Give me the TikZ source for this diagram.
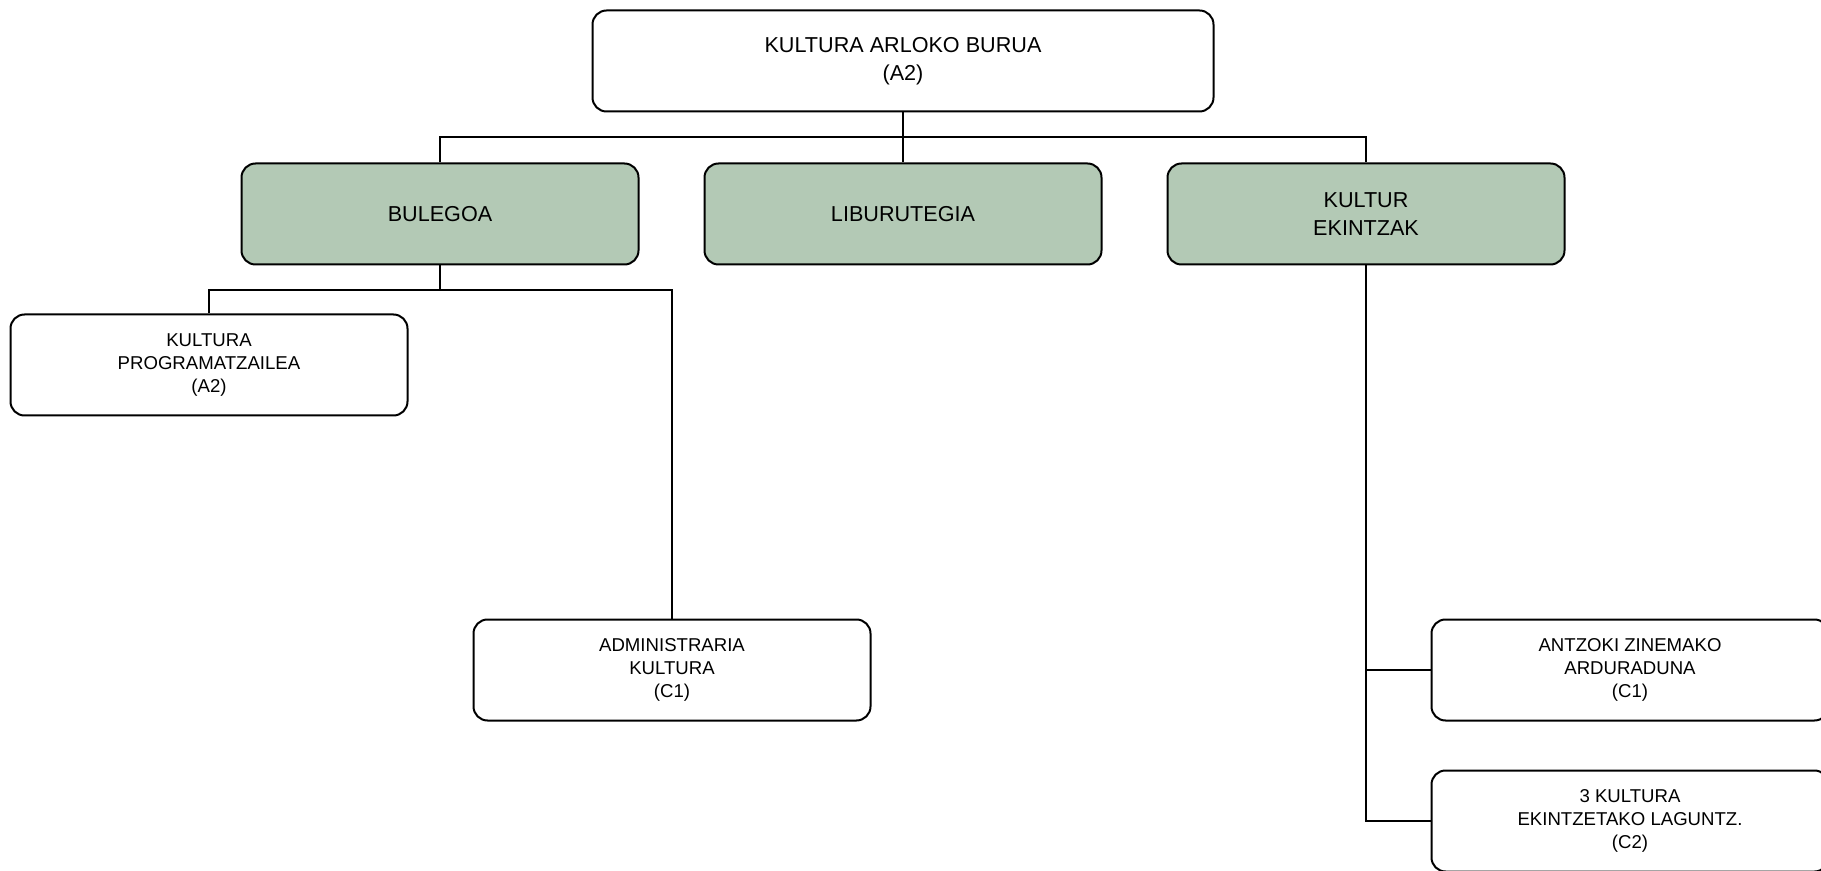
\documentclass[tikz,border=0pt]{standalone}
\usepackage{fontspec}
\setmainfont{Liberation Sans}
\definecolor{unitgreen}{RGB}{179,201,181}

\tikzset{
  post/.style={draw,rectangle,rounded corners=7pt,line width=1pt,minimum width=198.5pt,
    minimum height=50.5pt,align=center,font=\fontsize{9.3}{11.4}\selectfont},
  unit/.style={post,fill=unitgreen,font=\fontsize{10.8}{12.8}\selectfont},
  head/.style={post,minimum width=310.5pt,font=\fontsize{10.8}{12.8}\selectfont},
  link/.style={line width=0.8pt}
}

\begin{document}
\begin{tikzpicture}[x=0.5pt,y=-0.5pt]
  \useasboundingbox (0,0) rectangle (1821,871);

  \node (burua) at (903,61) [head]{KULTURA ARLOKO BURUA\\[1pt](A2)};

  \node (bulegoa) at (440,214) [unit]{BULEGOA};
  \node (liburu) at (903,214) [unit]{LIBURUTEGIA};
  \node (kultur) at (1366,214) [unit]{KULTUR\\[1pt]EKINTZAK};

  \node (progr) at (209,365) [post]{KULTURA\\PROGRAMATZAILEA\\(A2)};
  \node (admin) at (672,670) [post]{ADMINISTRARIA\\KULTURA\\(C1)};

  \node (antzoki) at (1630,670) [post]{ANTZOKI ZINEMAKO\\ARDURADUNA\\(C1)};
  \node (laguntz) at (1630,821) [post]{3 KULTURA\\EKINTZETAKO LAGUNTZ.\\(C2)};

  \coordinate (topbus) at (903,137);
  \coordinate (bulbus) at (440,290);

  \draw[link] (burua) -- (liburu);
  \draw[link] (bulegoa.north) |- (topbus) -| (kultur.north);

  \draw[link] (bulegoa) -- (bulbus);
  \draw[link] (progr.north) |- (bulbus) -| (admin.north);

  \draw[link] (kultur.south) |- (antzoki.west);
  \draw[link] (kultur.south) |- (laguntz.west);

\end{tikzpicture}
\end{document}
